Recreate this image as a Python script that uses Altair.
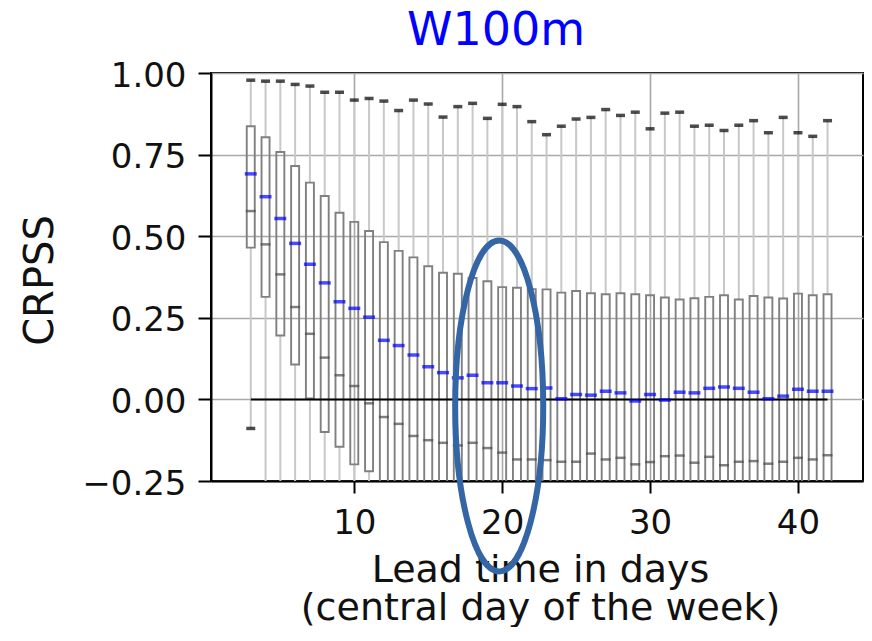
import altair as alt
import pandas as pd

# ---------------- data ----------------
days = list(range(3, 43))

# upper whisker end (black dash)
max_vals = [0.978, 0.975, 0.975, 0.965, 0.960, 0.941, 0.941, 0.917, 0.922, 0.914,
            0.885, 0.917, 0.905, 0.865, 0.897, 0.907, 0.861, 0.904, 0.897, 0.851,
            0.811, 0.837, 0.859, 0.864, 0.888, 0.870, 0.880, 0.829, 0.877, 0.880,
            0.837, 0.840, 0.824, 0.840, 0.854, 0.817, 0.864, 0.817, 0.806, 0.854]

# box top
q3_vals = [0.837, 0.803, 0.758, 0.715, 0.664, 0.623, 0.572, 0.544, 0.516, 0.482,
           0.455, 0.435, 0.408, 0.388, 0.385, 0.372, 0.362, 0.344, 0.342, 0.338,
           0.337, 0.327, 0.332, 0.325, 0.322, 0.325, 0.322, 0.319, 0.312, 0.306,
           0.310, 0.314, 0.319, 0.306, 0.317, 0.312, 0.309, 0.324, 0.319, 0.322]

# blue dash
median_vals = [0.691, 0.621, 0.554, 0.478, 0.414, 0.357, 0.299, 0.279, 0.252, 0.181,
               0.165, 0.136, 0.100, 0.082, 0.066, 0.074, 0.051, 0.051, 0.041, 0.033,
               0.035, 0.002, 0.015, 0.013, 0.025, 0.020, -0.005, 0.015, -0.002, 0.022,
               0.020, 0.034, 0.038, 0.034, 0.022, 0.002, 0.010, 0.031, 0.025, 0.025]

# dark grey dash
grey_vals = [0.577, 0.475, 0.383, 0.283, 0.201, 0.128, 0.074, 0.041, -0.012, -0.054,
             -0.075, -0.112, -0.125, -0.133, -0.141, -0.133, -0.149, -0.163, -0.184, -0.184,
             -0.186, -0.191, -0.191, -0.166, -0.184, -0.179, -0.199, -0.192, -0.174, -0.172,
             -0.194, -0.176, -0.202, -0.191, -0.189, -0.197, -0.191, -0.179, -0.184, -0.171]

# box bottom (below -0.25 from day 12 on, estimated)
q1_vals = [0.465, 0.314, 0.196, 0.107, 0.003, -0.100, -0.145, -0.199, -0.220, -0.27,
           -0.29, -0.30, -0.31, -0.32, -0.33, -0.33, -0.34, -0.35, -0.36, -0.36,
           -0.37, -0.37, -0.37, -0.36, -0.37, -0.37, -0.38, -0.38, -0.37, -0.37,
           -0.38, -0.37, -0.38, -0.38, -0.38, -0.38, -0.38, -0.37, -0.38, -0.37]

# lower whisker end (only day 3 visible, the rest below the axis, estimated)
min_vals = [-0.089, -0.40, -0.45, -0.50, -0.55, -0.60, -0.62, -0.65, -0.68, -0.70,
            -0.72, -0.74, -0.75, -0.76, -0.77, -0.78, -0.79, -0.80, -0.80, -0.81,
            -0.82, -0.82, -0.82, -0.82, -0.83, -0.83, -0.83, -0.83, -0.83, -0.83,
            -0.84, -0.84, -0.84, -0.84, -0.84, -0.84, -0.84, -0.84, -0.84, -0.84]

title_text = "W100m"
x_title = ["Lead time in days", "(central day of the week)"]
y_title = "CRPSS"
x_ticks = [10, 20, 30, 40]
y_ticks = [-0.25, 0.0, 0.25, 0.5, 0.75, 1.0]

# highlighted region (ellipse annotation)
mark_day = [19.8]
mark_val = [-0.02]

df = pd.DataFrame({
    "day": days, "max": max_vals, "q3": q3_vals, "median": median_vals,
    "grey": grey_vals, "q1": q1_vals, "min": min_vals,
})
zero_df = pd.DataFrame({"x0": [days[0]], "x1": [days[-1]], "y": [0.0]})
ell_df = pd.DataFrame({"day": mark_day, "val": mark_val})

# ---------------- chart ----------------
FONT = "DejaVu Sans"
x_scale = alt.Scale(domain=[0.65, 44.06], nice=False, zero=False)
y_scale = alt.Scale(domain=[-0.25, 1.0], nice=False, zero=False)

x_axis = alt.Axis(values=x_ticks, title=x_title, format="d",
                  titleX=329, titleY=100, titleAlign="center",
                  titleBaseline="alphabetic", titleLineHeight=38, titleFontSize=38,
                  tickSize=12, labelPadding=13)
y_axis = alt.Axis(values=y_ticks, title=y_title, format=".2f",
                  titleX=-159, titleY=207, titleAngle=270, titleAlign="center",
                  titleBaseline="alphabetic",
                  tickSize=13, labelPadding=12, labelOffset=3)

X = alt.X("day:Q", scale=x_scale, axis=x_axis)


def Y(field):
    return alt.Y(f"{field}:Q", scale=y_scale, axis=y_axis)


base = alt.Chart(df)

upper_whisker = base.mark_rule(color="#c8c8c8", strokeWidth=2, clip=True).encode(
    x=X, y=Y("max"), y2="q3:Q")
lower_whisker = base.mark_rule(color="#c8c8c8", strokeWidth=2, clip=True).encode(
    x=X, y=Y("q1"), y2="min:Q")
boxes = base.mark_bar(size=8, fill="transparent", stroke="#808080",
                      strokeWidth=1.9, clip=True).encode(
    x=X, y=Y("q3"), y2="q1:Q")

zero_line = alt.Chart(zero_df).mark_rule(color="black", strokeWidth=2).encode(
    x=alt.X("x0:Q", scale=x_scale, axis=x_axis), x2="x1:Q", y=Y("y"))

max_tick = base.mark_tick(orient="horizontal", size=9, thickness=3.5,
                          color="black", clip=True).encode(x=X, y=Y("max"))
min_tick = base.mark_tick(orient="horizontal", size=9, thickness=3.5,
                          color="black", clip=True).encode(x=X, y=Y("min"))
grey_tick = base.mark_tick(orient="horizontal", size=10, thickness=2.5,
                           color="#4a4a4a", clip=True).encode(x=X, y=Y("grey"))
median_tick = base.mark_tick(orient="horizontal", size=12, thickness=3.5,
                             color="#0000ff", clip=True).encode(x=X, y=Y("median"))

ellipse_path = ("M 0 -1 C 0.147 -1 0.266 -0.5523 0.266 0 "
                "C 0.266 0.5523 0.147 1 0 1 "
                "C -0.147 1 -0.266 0.5523 -0.266 0 "
                "C -0.266 -0.5523 -0.147 -1 0 -1 Z")
ellipse = alt.Chart(ell_df).mark_point(
    shape=ellipse_path, size=331 * 331, filled=False,
    stroke="#3465a4", strokeWidth=6, opacity=1).encode(
    x=alt.X("day:Q", scale=x_scale, axis=x_axis), y=Y("val"))

chart = alt.layer(
    upper_whisker, lower_whisker, boxes, zero_line,
    max_tick, min_tick, grey_tick, median_tick, ellipse,
).properties(
    width=652, height=408,
    title=alt.TitleParams(title_text, color="#0000ff", fontSize=46, font=FONT,
                          fontWeight="normal", anchor="middle", dx=-41, offset=4),
    autosize=alt.AutoSizeParams(type="none"),
    padding={"left": 203, "top": 65, "right": 1, "bottom": 146},
).configure(
    font=FONT,
).configure_view(
    stroke="black", strokeWidth=2,
).configure_axis(
    labelFont=FONT, titleFont=FONT, labelFontSize=34, titleFontSize=40,
    labelColor="#111111", titleColor="#111111", titleFontWeight="normal",
    domainColor="black", domainWidth=2, tickColor="black", tickWidth=2,
    grid=True, gridColor="#a8a8a8", gridWidth=1.6,
    labelFlush=False, labelOverlap=False,
)

chart.save("out.html", embed_options={"renderer": "svg", "actions": False})
